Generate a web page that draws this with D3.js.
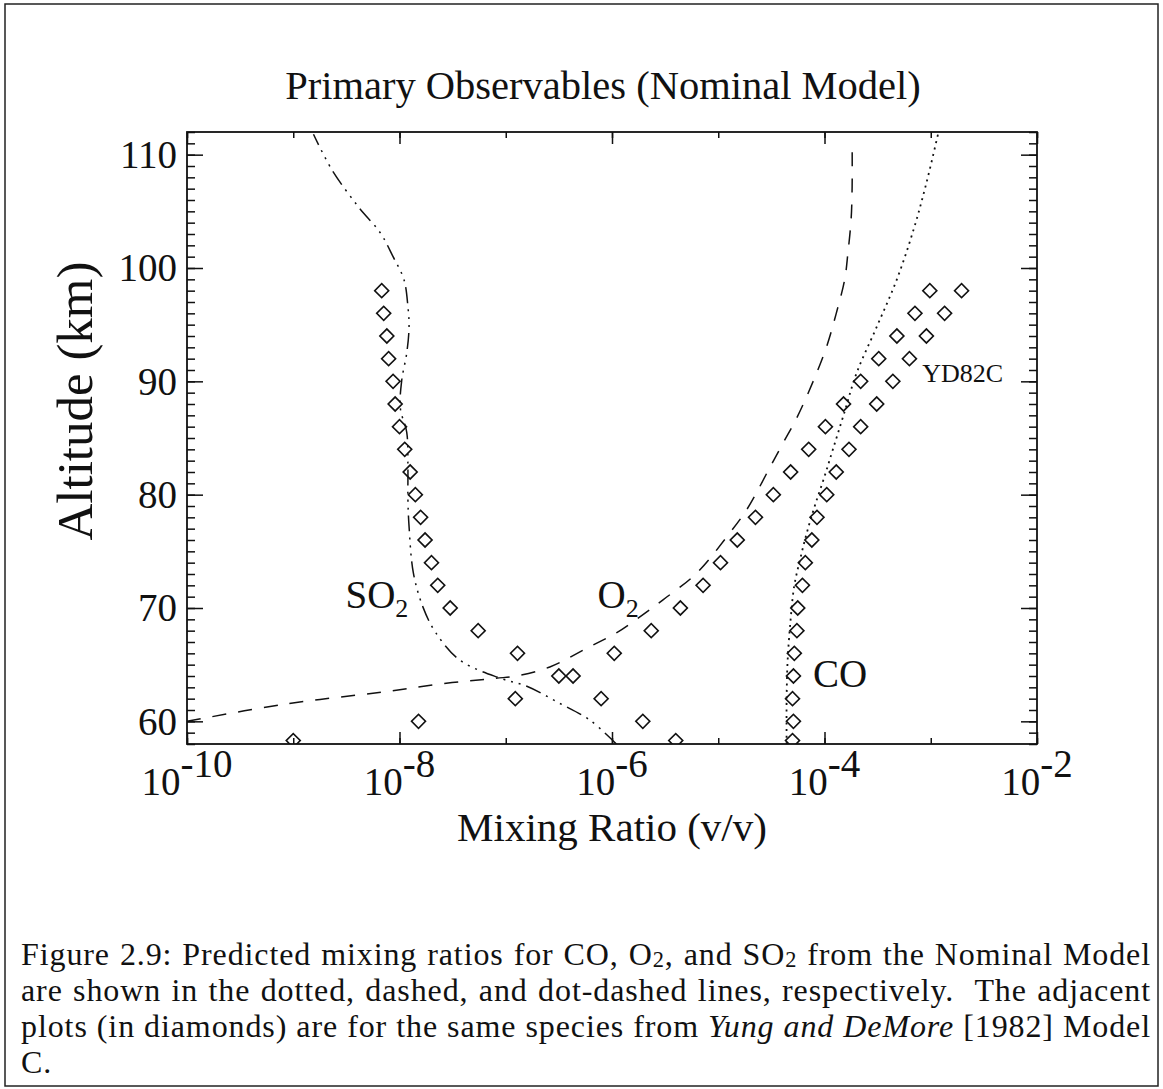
<!DOCTYPE html>
<head>
    <title>Primary Observables (Nominal Model)</title>
    <meta charset="utf-8">
    <script src="https://d3js.org/d3.v7.min.js"></script>
    <style>
        body {
            margin: 0;
            background: #fff;
        }

        #wrap {
            position: relative;
            width: 1163px;
            height: 1089px;
        }

        svg {
            position: absolute;
            left: 0;
            top: 0;
        }

        .caption {
            position: absolute;
            left: 21px;
            top: 936px;
            width: 1130px;
            font-family: "Liberation Serif", "Times New Roman", serif;
            font-size: 32px;
            letter-spacing: 0.9px;
            line-height: 36px;
            color: #111;
        }

        .caption .line {
            text-align: justify;
            text-align-last: justify;
            white-space: nowrap;
        }

        .caption .last {
            text-align: left;
        }

        .caption .sub {
            font-size: 0.7em;
            vertical-align: -0.1em;
            line-height: 0;
        }
    </style>
</head>

<body>
    <div id="wrap">
        <svg width="1163" height="1089"></svg>
        <div class="caption"></div>
    </div>
    <script type="text/javascript">
        // altitude levels of the YD82C diamonds (km)
        var diamondAlt = [98, 96, 94, 92, 90, 88, 86, 84, 82, 80, 78, 76, 74, 72, 70, 68, 66, 64, 62, 60, 58.3];

        // YD82C model C (diamonds), mixing ratio v/v
        var so2Diamonds = [6.8e-9, 7.1e-9, 7.6e-9, 7.9e-9, 8.7e-9, 9.1e-9, 1.0e-8, 1.12e-8, 1.26e-8, 1.41e-8, 1.58e-8,
            1.74e-8, 2.0e-8, 2.29e-8, 3.0e-8, 5.5e-8, 1.29e-7, 3.16e-7, 7.9e-7, 1.95e-6, 3.98e-6];
        var o2Diamonds = [9.8e-4, 7.1e-4, 4.8e-4, 3.24e-4, 2.19e-4, 1.51e-4, 1.02e-4, 7.1e-5, 4.8e-5, 3.3e-5, 2.24e-5,
            1.51e-5, 1.05e-5, 7.2e-6, 4.4e-6, 2.34e-6, 1.05e-6, 4.3e-7, 1.23e-7, 1.51e-8, 1.0e-9];
        var coDiamonds = [1.95e-3, 1.35e-3, 9.1e-4, 6.3e-4, 4.4e-4, 3.1e-4, 2.19e-4, 1.70e-4, 1.29e-4, 1.05e-4, 8.5e-5,
            7.6e-5, 6.6e-5, 6.2e-5, 5.6e-5, 5.5e-5, 5.2e-5, 5.1e-5, 5.0e-5, 5.1e-5, 5.0e-5];

        // Nominal model curves
        var coAlt = [58, 62, 65.4, 69, 72, 74.3, 76.6, 79, 81.6, 84, 87, 90.7, 94.8, 99, 103.4, 107.5, 111.8];
        var coModel = [4.4e-5, 4.4e-5, 4.5e-5, 4.8e-5, 5.2e-5, 5.9e-5, 6.8e-5, 8.1e-5, 1.0e-4, 1.2e-4, 1.51e-4,
            2.0e-4, 3.1e-4, 4.8e-4, 6.9e-4, 9.1e-4, 1.17e-3];

        var o2Alt = [60, 61.5, 62.6, 63.4, 63.8, 64.0, 64.8, 66.6, 67.8, 69.0, 70.7, 73.1, 76.4, 78.7, 82.5, 84.6,
            86.8, 90.1, 93.1, 96.0, 99.0, 101.3, 104.3, 107.2, 111];
        var o2Model = [1.0e-10, 8.1e-10, 7.1e-9, 3.0e-8, 8.1e-8, 1.26e-7, 2.6e-7, 6.2e-7, 1.1e-6, 1.7e-6, 3.0e-6,
            6.3e-6, 1.23e-5, 1.86e-5, 3.1e-5, 4.1e-5, 5.5e-5, 7.9e-5, 1.05e-4, 1.29e-4, 1.55e-4, 1.66e-4,
            1.78e-4, 1.82e-4, 1.82e-4];

        var so2Alt = [58, 60.1, 61.6, 63.1, 63.8, 65.4, 67.8, 70.1, 73.1, 77.2, 79.6, 82.5, 85.5, 87.6, 90.1, 92.5,
            94.8, 96.6, 99, 101, 103.1, 105.4, 108.7, 111.8];
        var so2Model = [1.1e-6, 6.2e-7, 3.2e-7, 1.58e-7, 8.9e-8, 3.7e-8, 2.2e-8, 1.66e-8, 1.35e-8, 1.23e-8, 1.2e-8,
            1.2e-8, 1.17e-8, 1.02e-8, 1.05e-8, 1.17e-8, 1.23e-8, 1.2e-8, 1.1e-8, 8.7e-9, 6.6e-9, 4.1e-9, 2.3e-9,
            1.55e-9];

        // ticks
        var xMinorTicks = [1e-10, 1e-9, 1e-8, 1e-7, 1e-6, 1e-5, 1e-4, 1e-3, 1e-2];
        var xMajorTicks = [1e-10, 1e-8, 1e-6, 1e-4, 1e-2];
        var xTickExponents = ["-10", "-8", "-6", "-4", "-2"];
        var yMajorTicks = [60, 70, 80, 90, 100, 110];
        var yMinorTicks = d3.range(58, 113, 1);

        // species labels, anchored in data coordinates (mixing ratio, km)
        var speciesLabels = [
            { v: 3.1e-9, alt: 70.0, main: "SO", sub: "2", size: 39 },
            { v: 7.3e-7, alt: 70.0, main: "O", sub: "2", size: 39 },
            { v: 7.8e-5, alt: 63.0, main: "CO", sub: null, size: 39 },
            { v: 8.3e-4, alt: 89.9, main: "YD82C", sub: null, size: 26 }
        ];

        var serif = '"Liberation Serif", "Times New Roman", serif';

        var margin = { left: 187, right: 1037, top: 132, bottom: 744 };
        var x = d3.scaleLog().domain([1e-10, 1e-2]).range([margin.left, margin.right]);
        var y = d3.scaleLinear().domain([58, 112]).range([margin.bottom, margin.top]);

        var svg = d3.select("svg");

        // outer page frame
        svg.append("rect")
            .attr("x", 5).attr("y", 4)
            .attr("width", 1153).attr("height", 1082)
            .attr("fill", "none")
            .attr("stroke", "#222")
            .attr("stroke-width", 1.5);

        // title
        svg.append("text")
            .attr("x", 603).attr("y", 99)
            .attr("text-anchor", "middle")
            .style("font-family", serif)
            .style("font-size", "40.5px")
            .attr("fill", "#111")
            .text("Primary Observables (Nominal Model)");

        // axes: inward ticks, mirrored on top/right
        function styleAxis(g) {
            g.select(".domain").remove();
            g.selectAll("line").attr("stroke", "#111").attr("stroke-width", 1.5);
            g.selectAll("text").style("font-family", serif).style("font-size", "39px").attr("fill", "#111");
        }

        var plotH = margin.bottom - margin.top;
        var plotW = margin.right - margin.left;

        svg.append("g").attr("transform", "translate(0," + margin.bottom + ")")
            .call(d3.axisBottom(x).tickValues(xMinorTicks).tickSizeInner(-6).tickSizeOuter(0).tickFormat(""))
            .call(styleAxis);
        svg.append("g").attr("transform", "translate(0," + margin.bottom + ")")
            .call(d3.axisBottom(x).tickValues(xMajorTicks).tickSizeInner(-12).tickSizeOuter(0).tickFormat(""))
            .call(styleAxis);
        svg.append("g").attr("transform", "translate(0," + margin.top + ")")
            .call(d3.axisTop(x).tickValues(xMinorTicks).tickSizeInner(-6).tickSizeOuter(0).tickFormat(""))
            .call(styleAxis);
        svg.append("g").attr("transform", "translate(0," + margin.top + ")")
            .call(d3.axisTop(x).tickValues(xMajorTicks).tickSizeInner(-12).tickSizeOuter(0).tickFormat(""))
            .call(styleAxis);

        svg.append("g").attr("transform", "translate(" + margin.left + ",0)")
            .call(d3.axisLeft(y).tickValues(yMinorTicks).tickSizeInner(-8).tickSizeOuter(0).tickFormat(""))
            .call(styleAxis);
        svg.append("g").attr("transform", "translate(" + margin.left + ",0)")
            .call(d3.axisLeft(y).tickValues(yMajorTicks).tickSizeInner(-16).tickSizeOuter(0).tickPadding(10)
                .tickFormat(d3.format("d")))
            .call(styleAxis)
            .selectAll("text").attr("dy", "0.33em");
        svg.append("g").attr("transform", "translate(" + margin.right + ",0)")
            .call(d3.axisRight(y).tickValues(yMinorTicks).tickSizeInner(-8).tickSizeOuter(0).tickFormat(""))
            .call(styleAxis);
        svg.append("g").attr("transform", "translate(" + margin.right + ",0)")
            .call(d3.axisRight(y).tickValues(yMajorTicks).tickSizeInner(-16).tickSizeOuter(0).tickFormat(""))
            .call(styleAxis);

        // frame of the plot
        svg.append("rect")
            .attr("x", margin.left).attr("y", margin.top)
            .attr("width", plotW).attr("height", plotH)
            .attr("fill", "none")
            .attr("stroke", "#111")
            .attr("stroke-width", 1.8);

        // x tick labels: 10 with raised exponent
        var xl = svg.append("g").selectAll("text")
            .data(xMajorTicks).enter()
            .append("text")
            .attr("x", function(d) { return x(d); })
            .attr("y", 795)
            .attr("text-anchor", "middle")
            .style("font-family", serif)
            .style("font-size", "39px")
            .attr("fill", "#111");
        xl.append("tspan").text("10");
        xl.append("tspan").attr("dy", -18).text(function(d, i) { return xTickExponents[i]; });

        // axis titles
        svg.append("text")
            .attr("x", 612).attr("y", 841)
            .attr("text-anchor", "middle")
            .style("font-family", serif)
            .style("font-size", "41px")
            .attr("fill", "#111")
            .text("Mixing Ratio (v/v)");

        svg.append("text")
            .attr("transform", "translate(92,401) rotate(-90)")
            .attr("text-anchor", "middle")
            .style("font-family", serif)
            .style("font-size", "51px")
            .attr("fill", "#111")
            .text("Altitude (km)");

        // clip to plot area
        svg.append("clipPath").attr("id", "clip")
            .append("rect")
            .attr("x", margin.left).attr("y", margin.top)
            .attr("width", plotW).attr("height", plotH);

        var plot = svg.append("g").attr("clip-path", "url(#clip)");

        var line = d3.line()
            .x(function(d) { return x(d.v); })
            .y(function(d) { return y(d.alt); })
            .curve(d3.curveCatmullRom);

        function zip(alts, vals) {
            return alts.map(function(a, i) { return { alt: a, v: vals[i] }; });
        }

        var curves = [
            { data: zip(coAlt, coModel), dash: "2,4.5", width: 1.8 },
            { data: zip(o2Alt, o2Model), dash: "14,12", width: 1.5 },
            { data: zip(so2Alt, so2Model), dash: "16,6,2,6,2,6,2,6", width: 1.5 }
        ];

        plot.selectAll("path.model")
            .data(curves).enter()
            .append("path")
            .attr("class", "model")
            .attr("d", function(d) { return line(d.data); })
            .attr("fill", "none")
            .attr("stroke", "#111")
            .attr("stroke-width", function(d) { return d.width; })
            .attr("stroke-dasharray", function(d) { return d.dash; });

        // diamonds
        var diamond = d3.symbol().type(d3.symbolSquare).size(98);
        var allDiamonds = zip(diamondAlt, so2Diamonds)
            .concat(zip(diamondAlt, o2Diamonds))
            .concat(zip(diamondAlt, coDiamonds));

        plot.selectAll("path.yd")
            .data(allDiamonds).enter()
            .append("path")
            .attr("class", "yd")
            .attr("d", diamond)
            .attr("transform", function(d) {
                return "translate(" + x(d.v) + "," + y(d.alt) + ") rotate(45)";
            })
            .attr("fill", "none")
            .attr("stroke", "#111")
            .attr("stroke-width", 1.6);

        // species labels
        var lab = svg.append("g").selectAll("text")
            .data(speciesLabels).enter()
            .append("text")
            .attr("x", function(d) { return x(d.v); })
            .attr("y", function(d) { return y(d.alt); })
            .style("font-family", serif)
            .style("font-size", function(d) { return d.size + "px"; })
            .attr("fill", "#111");
        lab.append("tspan").text(function(d) { return d.main; });
        lab.filter(function(d) { return d.sub; })
            .append("tspan").attr("dy", 9).style("font-size", "26px")
            .text(function(d) { return d.sub; });

        // caption
        var captionLines = [
            'Figure 2.9: Predicted mixing ratios for CO, O<span class="sub">2</span>, and SO<span class="sub">2</span> from the Nominal Model',
            'are shown in the dotted, dashed, and dot-dashed lines, respectively.&nbsp; The adjacent',
            'plots (in diamonds) are for the same species from <i>Yung and DeMore</i> [1982] Model',
            'C.'
        ];
        d3.select(".caption").selectAll("div")
            .data(captionLines).enter()
            .append("div")
            .attr("class", function(d, i) { return i < captionLines.length - 1 ? "line" : "last"; })
            .html(function(d) { return d; });
    </script>
</body>
